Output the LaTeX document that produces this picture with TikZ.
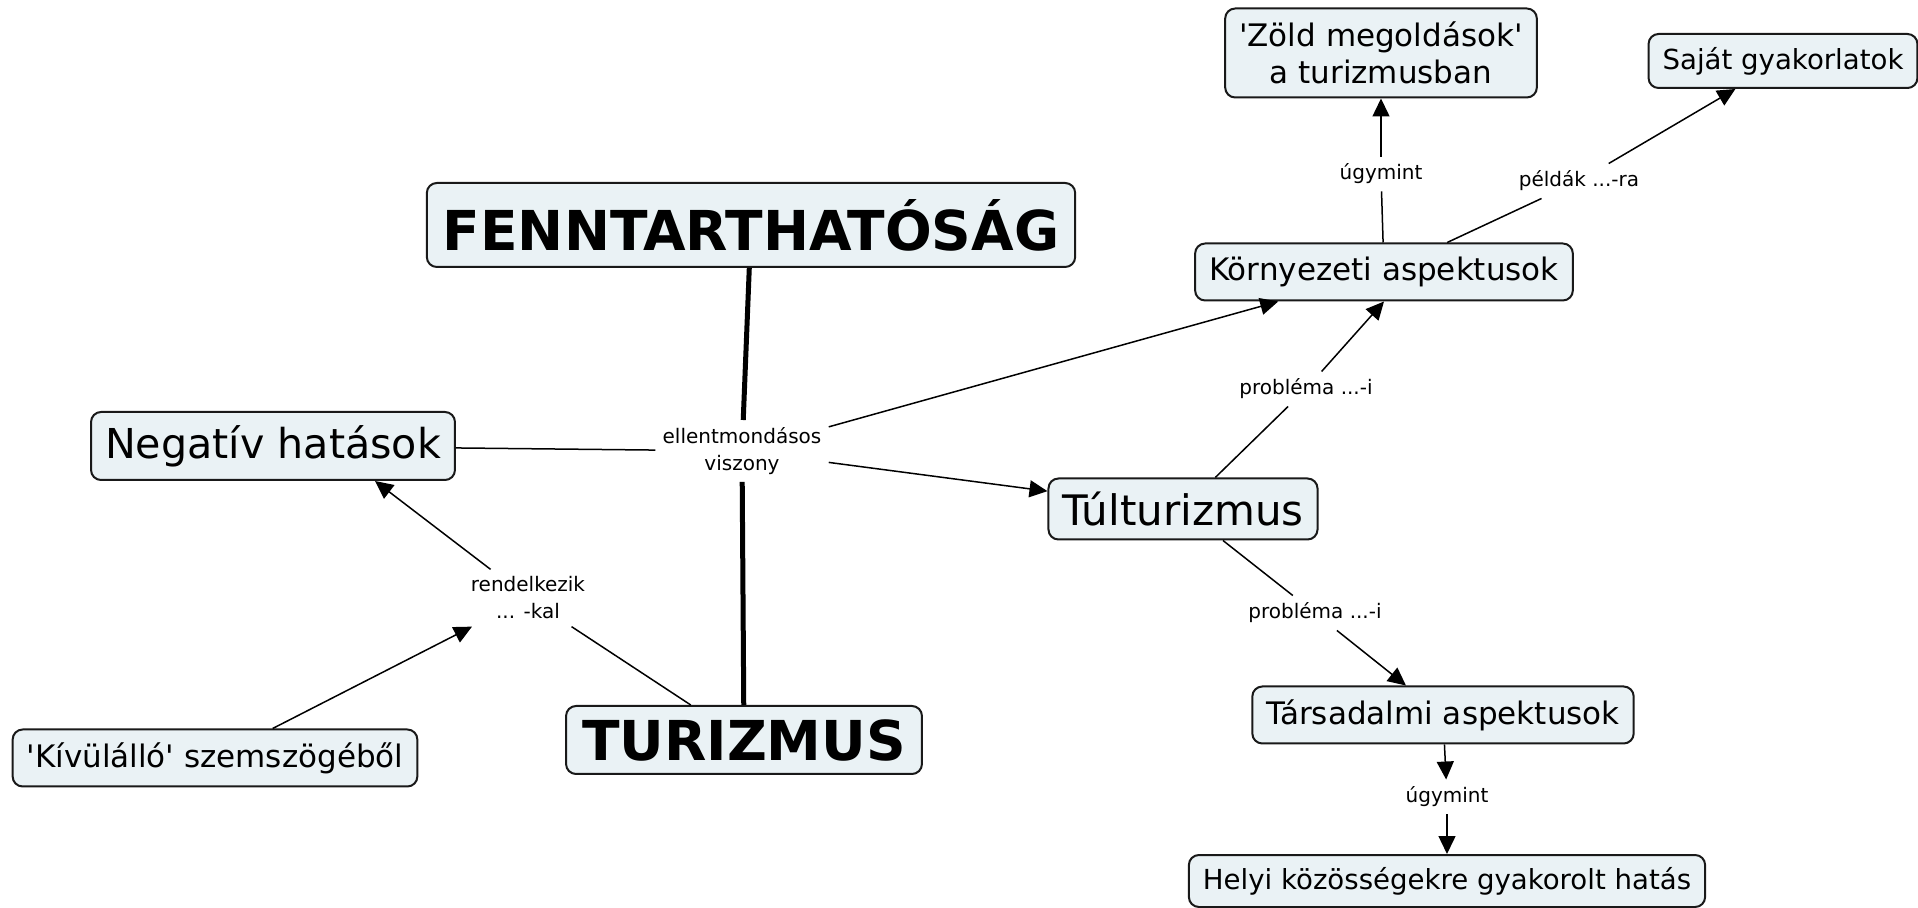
\documentclass[tikz,border=0pt]{standalone}
\usepackage{fontspec}
\setmainfont{DejaVu Sans}[Ligatures=TeXOff]
\usepackage{xcolor}
\usepackage{tikz}
\usetikzlibrary{arrows.meta}
\definecolor{conceptfill}{RGB}{234,242,245}
\tikzstyle{concept} = [draw=black!90, fill=conceptfill, line width=1pt, rounded corners=5pt, inner xsep=7pt, inner ysep=4pt, align=center, minimum height=28.5pt, font=\fontsize{15.5}{18.3}\selectfont]
\tikzstyle{smallconcept} = [concept, font=\fontsize{13.8}{17}\selectfont]
\tikzstyle{bigconcept} = [concept, minimum height=32pt, font=\fontsize{21}{25}\selectfont]
\tikzstyle{topconcept} = [concept, inner xsep=8pt, font=\bfseries\fontsize{27.5}{33}\selectfont]
\tikzstyle{linklabel} = [align=center, inner sep=3.5pt, font=\fontsize{10}{13.5}\selectfont]
\tikzstyle{cmaplink} = [draw, line width=0.75pt]
\tikzstyle{cmaparrow} = [draw, line width=0.75pt, -{Triangle[length=9pt, width=8.5pt]}]
\tikzstyle{mainlink} = [draw, line width=2.5pt]

\begin{document}
\begin{tikzpicture}[x=0.5pt, y=-0.5pt]
\useasboundingbox (0,0) rectangle (1918,908);

%%%% main concepts
\node [topconcept, minimum height=42pt] at (751,225) (fenn) {FENNTARTHATÓSÁG};
\node [topconcept, minimum height=34pt] at (744,740) (tur) {TURIZMUS};
\node [linklabel] at (742,451) (ellent) {ellentmondásos\\viszony};

% left side
\node [bigconcept, minimum height=34pt, font=\fontsize{20.6}{25}\selectfont] at (273,446) (neg) {Negatív hatások};
\node [linklabel] at (528,598) (rend) {rendelkezik\\... -kal};
\node [concept] at (215,758) (kiv) {'Kívülálló' szemszögéből};

% environment
\node [concept] at (1384,272) (korny) {Környezeti aspektusok};
\node [concept, minimum height=44.5pt] at (1381,53) (zold) {'Zöld megoldások'\\a turizmusban};
\node [smallconcept, minimum height=27pt] at (1783,61) (sajat) {Saját gyakorlatok};
\node [linklabel] at (1381,174) (ugy1) {úgymint};
\node [linklabel] at (1579,181) (peldak) {példák ...-ra};

% overtourism
\node [bigconcept, minimum height=30.5pt] at (1183,509) (tul) {Túlturizmus};
\node [linklabel] at (1306,389) (prob1) {probléma ...-i};
\node [linklabel] at (1315,613) (prob2) {probléma ...-i};
\node [concept] at (1443,715) (tars) {Társadalmi aspektusok};
\node [linklabel] at (1447,797) (ugy2) {úgymint};
\node [smallconcept, minimum height=26pt] at (1447,881) (helyi) {Helyi közösségekre gyakorolt hatás};

% FENNTARTHATÓSÁG -- TURIZMUS
\path [mainlink] (fenn) to (ellent);
\path [mainlink] (ellent) to (tur);

% ellentmondásos viszony
\path [cmaplink] (ellent) to (neg);
\path [cmaparrow] (ellent) to (korny);
\path [cmaparrow] (ellent) to (tul);

% rendelkezik ... -kal
\path [cmaplink] (tur) to (rend);
\path [cmaparrow] (rend) to ([xshift=51pt]neg.south);
\path [cmaparrow] (kiv) to (rend);

% environment links
\path [cmaplink] (korny) to (ugy1);
\path [cmaparrow] (ugy1) to (zold);
\path [cmaplink] (korny) to (peldak);
\path [cmaparrow] (peldak) to (sajat);

% overtourism links
\path [cmaplink] (tul) to (prob1);
\path [cmaparrow] (prob1) to (korny.south);
\path [cmaplink] (tul) to (prob2);
\path [cmaparrow] (prob2) to (tars);
\path [cmaparrow] (tars) to (ugy2);
\path [cmaparrow] (ugy2) to (helyi);
\end{tikzpicture}
\end{document}
